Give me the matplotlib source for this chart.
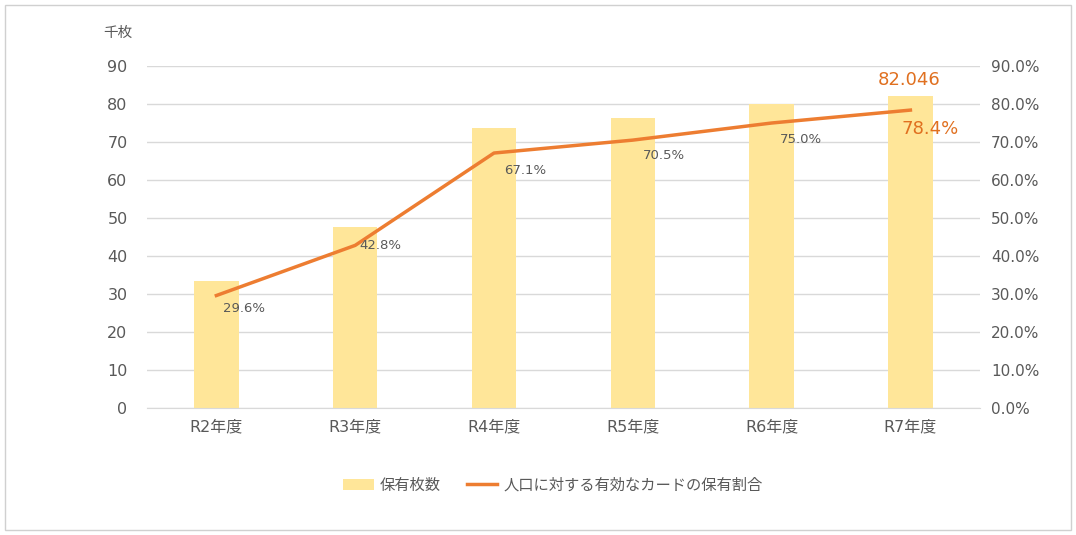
import matplotlib

matplotlib.use("Agg")

import matplotlib.pyplot as plt  # noqa: E402
from matplotlib.patches import Rectangle  # noqa: E402

plt.rcParams["font.family"] = ["DejaVu Sans", "Noto Sans CJK JP"]

categories = ["R2年度", "R3年度", "R4年度", "R5年度", "R6年度", "R7年度"]
cards = [33.4, 47.6, 73.8, 76.3, 79.9, 82.046]
ratio = [29.6, 42.8, 67.1, 70.5, 75.0, 78.4]
ratio_labels = ["29.6%", "42.8%", "67.1%", "70.5%", "75.0%", "78.4%"]
# label offsets in pixels from each point
label_offsets = [(28, -13), (25, 0), (31, -17), (31, -15), (29, -16), (20, -19)]

BAR = "#FFE699"
LINE = "#ED7D31"
GRID = "#D9D9D9"
TXT = "#595959"

fig = plt.figure(figsize=(10.76, 5.35), dpi=100)
fig.patches.append(Rectangle((0.005, 0.009), 0.99, 0.982, transform=fig.transFigure,
                             fill=False, edgecolor="#D0D0D0", linewidth=1))
ax = fig.add_axes([0.1366, 0.2374, 0.774, 0.6392])
ax2 = ax.twinx()

x = list(range(len(categories)))
bars = ax.bar(x, cards, width=0.32, color=BAR, zorder=2, label="保有枚数")
ax.set_ylim(0, 90)
ax.set_yticks(range(0, 91, 10))
ax.set_xlim(-0.5, len(categories) - 0.5)
ax.set_xticks(x)
ax.set_xticklabels(categories)
ax.grid(axis="y", color=GRID, linewidth=1, zorder=0)
ax.set_axisbelow(True)

line, = ax2.plot(x, ratio, color=LINE, linewidth=2.5, zorder=3,
                 label="人口に対する有効なカードの保有割合")
ax2.set_ylim(0, 90)
ax2.set_yticks(range(0, 91, 10))
ax2.set_yticklabels([f"{v:.1f}%" for v in range(0, 91, 10)])

for a in (ax, ax2):
    for s in a.spines.values():
        s.set_visible(False)
    a.tick_params(length=0, labelsize=11.5, colors=TXT)
ax.spines["bottom"].set_visible(True)
ax.spines["bottom"].set_color(GRID)
ax.tick_params(axis="x", labelsize=11.5, pad=8)
ax.tick_params(axis="y", pad=14)
ax2.tick_params(axis="y", labelsize=11, pad=8)

for i, (v, lab, off) in enumerate(zip(ratio, ratio_labels, label_offsets)):
    last = i == len(ratio) - 1
    ax2.annotate(lab, (i, v), xytext=off, textcoords="offset pixels",
                 ha="center", va="center",
                 fontsize=13 if last else 9.5,
                 color="#E07020" if last else TXT, zorder=5)

ax.annotate(f"{cards[-1]:.3f}", (x[-1], cards[-1]), xytext=(-1, 16),
            textcoords="offset pixels", ha="center", va="center",
            fontsize=13, color="#E07020")

fig.text(118 / 1076, 1 - 32 / 535, "千枚", ha="center", va="center",
         fontsize=10.5, color=TXT)

fig.legend(handles=[bars, line], loc="center", bbox_to_anchor=(0.514, 1 - 485 / 535),
           ncol=2, frameon=False, fontsize=11, labelcolor=TXT,
           handlelength=2.0, handletextpad=0.4, columnspacing=1.7)

fig.savefig("out.png", dpi=100)
plt.close(fig)
